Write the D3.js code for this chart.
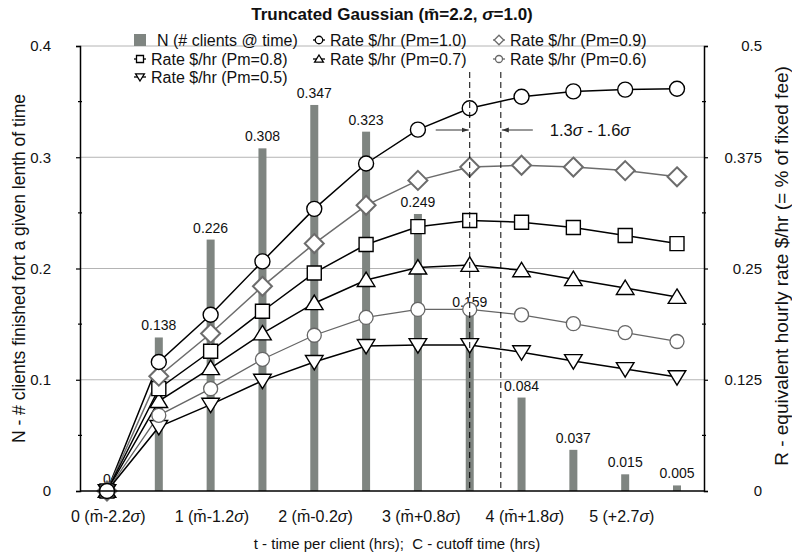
<!DOCTYPE html>
<html>
<head>
<meta charset="utf-8">
<script src="https://cdn.jsdelivr.net/npm/d3@7"></script>
<style>
  body { margin: 0; background: #fff; }
  svg text { font-family: "Liberation Sans", Arial, Helvetica, sans-serif; fill: #111; }
</style>
</head>
<body>
<div id="chart"></div>
<script>
// time per client (hrs) for each data point
var tHours = [0, 0.5, 1, 1.5, 2, 2.5, 3, 3.5, 4, 4.5, 5, 5.5];
// N - # clients finished at that time (bars, left axis)
var nClients = [0, 0.138, 0.226, 0.308, 0.347, 0.323, 0.249, 0.159, 0.084, 0.037, 0.015, 0.005];
// R - equivalent hourly rate (right axis)
var rate10 = [0, 0.145, 0.198, 0.258, 0.317, 0.368, 0.406, 0.430, 0.443, 0.449, 0.451, 0.452];
var rate09 = [0, 0.129, 0.177, 0.230, 0.278, 0.321, 0.349, 0.364, 0.366, 0.364, 0.360, 0.353];
var rate08 = [0, 0.115, 0.157, 0.202, 0.245, 0.277, 0.297, 0.304, 0.302, 0.296, 0.287, 0.278];
var rate07 = [0, 0.101, 0.138, 0.177, 0.211, 0.237, 0.251, 0.254, 0.248, 0.238, 0.228, 0.218];
var rate06 = [0, 0.085, 0.115, 0.148, 0.175, 0.195, 0.204, 0.204, 0.198, 0.188, 0.178, 0.168];
var rate05 = [0, 0.072, 0.097, 0.124, 0.145, 0.163, 0.164, 0.164, 0.156, 0.146, 0.137, 0.128];

var xTicks = [0, 1, 2, 3, 4, 5];
var xTickLabels = [["0 (m\u0304-2.2", ")"], ["1 (m\u0304-1.2", ")"], ["2 (m\u0304-0.2", ")"],
                   ["3 (m\u0304+0.8", ")"], ["4 (m\u0304+1.8", ")"], ["5 (+2.7", ")"]];
var leftTicks = [0, 0.1, 0.2, 0.3, 0.4];
var rightTicks = [0, 0.125, 0.25, 0.375, 0.5];
var cutoffLines = [3.5, 3.8]; // m + 1.3 sigma, m + 1.6 sigma

var W = 792, H = 557;
var margin = { top: 46, right: 88, bottom: 66, left: 80 };
var plotW = W - margin.left - margin.right,
    plotH = H - margin.top - margin.bottom;

var svg = d3.select("#chart").append("svg")
    .attr("width", W).attr("height", H);

var x = d3.scaleLinear().domain([0, 5.5]).range([margin.left + 27, margin.left + 597]);
var yL = d3.scaleLinear().domain([0, 0.4]).range([margin.top + plotH, margin.top]);
var yR = d3.scaleLinear().domain([0, 0.5]).range([margin.top + plotH, margin.top]);

var xL = margin.left, xRt = margin.left + plotW, yBase = margin.top + plotH;

// gridlines
svg.append("g").selectAll("line")
    .data(leftTicks.slice(1))
    .enter().append("line")
    .attr("x1", xL).attr("x2", xRt)
    .attr("y1", d => yL(d)).attr("y2", d => yL(d))
    .attr("stroke", "#b4b4b4").attr("stroke-width", 1);

// bars
var barW = 8;
svg.append("g").selectAll("rect")
    .data(tHours.map((t, i) => ({ t: t, v: nClients[i] })).filter(d => d.v > 0))
    .enter().append("rect")
    .attr("x", d => x(d.t) - barW / 2)
    .attr("y", d => yL(d.v))
    .attr("width", barW)
    .attr("height", d => yBase - yL(d.v))
    .attr("fill", "#7f8581");

// bar labels
svg.append("g").selectAll("text")
    .data(tHours.map((t, i) => ({ t: t, v: nClients[i] })))
    .enter().append("text")
    .attr("x", d => x(d.t))
    .attr("y", d => yL(d.v) - 7)
    .attr("text-anchor", "middle")
    .attr("font-size", "14px")
    .text(d => d.v === 0 ? "0" : d3.format(".3f")(d.v));

// marker shapes
function markerPath(kind, s) {
    var p = d3.path();
    if (kind === "circle") {
        p.moveTo(s, 0); p.arc(0, 0, s, 0, 2 * Math.PI);
    } else if (kind === "square") {
        p.rect(-s, -s, 2 * s, 2 * s);
    } else if (kind === "diamond") {
        p.moveTo(0, -s); p.lineTo(s, 0); p.lineTo(0, s); p.lineTo(-s, 0); p.closePath();
    } else if (kind === "up") {
        p.moveTo(0, -s); p.lineTo(s * 1.1, s * 0.8); p.lineTo(-s * 1.1, s * 0.8); p.closePath();
    } else if (kind === "down") {
        p.moveTo(0, s); p.lineTo(s * 1.1, -s * 0.8); p.lineTo(-s * 1.1, -s * 0.8); p.closePath();
    }
    return p.toString();
}

var seriesList = [
    { name: "Rate $/hr (Pm=1.0)", vals: rate10, shape: "circle", size: 7.5, color: "#000", sw: 1.4, lw: 1.5 },
    { name: "Rate $/hr (Pm=0.9)", vals: rate09, shape: "diamond", size: 9.5, color: "#6c6c6c", sw: 2, lw: 1.5 },
    { name: "Rate $/hr (Pm=0.8)", vals: rate08, shape: "square", size: 7, color: "#000", sw: 1.4, lw: 1.5 },
    { name: "Rate $/hr (Pm=0.7)", vals: rate07, shape: "up", size: 8, color: "#000", sw: 1.4, lw: 1.5 },
    { name: "Rate $/hr (Pm=0.6)", vals: rate06, shape: "circle", size: 7, color: "#666", sw: 1.3, lw: 1.3 },
    { name: "Rate $/hr (Pm=0.5)", vals: rate05, shape: "down", size: 8, color: "#000", sw: 1.4, lw: 1.5 }
];

var line = d3.line().x(d => x(d.t)).y(d => yR(d.v));

seriesList.forEach(function (s) {
    var pts = tHours.map((t, i) => ({ t: t, v: s.vals[i] }));
    svg.append("path")
        .datum(pts)
        .attr("d", line)
        .attr("fill", "none")
        .attr("stroke", s.color)
        .attr("stroke-width", s.lw);
});
// markers drawn after all lines, bottom series first
seriesList.slice().reverse().forEach(function (s) {
    var pts = tHours.map((t, i) => ({ t: t, v: s.vals[i] }));
    svg.append("g").selectAll("path")
        .data(pts)
        .enter().append("path")
        .attr("transform", d => "translate(" + x(d.t) + "," + yR(d.v) + ")")
        .attr("d", markerPath(s.shape, s.size))
        .attr("fill", "#fff")
        .attr("stroke", s.color)
        .attr("stroke-width", s.sw);
});

// axes
var axisL = svg.append("g").attr("transform", "translate(" + xL + ",0)")
    .call(d3.axisLeft(yL).tickValues(leftTicks).tickSize(4).tickPadding(25).tickFormat(d3.format("")));
var axisR = svg.append("g").attr("transform", "translate(" + xRt + ",0)")
    .call(d3.axisRight(yR).tickValues(rightTicks).tickSize(4).tickPadding(54).tickFormat(d3.format("")));
[axisL, axisR].forEach(function (a) {
    a.select(".domain").attr("stroke", "#000").attr("stroke-width", 1.5);
    a.selectAll(".tick line").attr("stroke", "#000").attr("stroke-width", 1.2);
    a.selectAll(".tick text").attr("font-size", "15px")
        .attr("font-family", "Liberation Sans, Arial, sans-serif").attr("fill", "#111");
});
axisR.selectAll(".tick text").attr("text-anchor", "end");
// minor ticks
svg.append("g").selectAll("line")
    .data([0.05, 0.15, 0.25, 0.35])
    .enter().append("line")
    .attr("x1", xL - 2).attr("x2", xL + 2)
    .attr("y1", d => yL(d)).attr("y2", d => yL(d))
    .attr("stroke", "#000").attr("stroke-width", 1.2);
svg.append("g").selectAll("line")
    .data([0.0625, 0.1875, 0.3125, 0.4375])
    .enter().append("line")
    .attr("x1", xRt - 2).attr("x2", xRt + 2)
    .attr("y1", d => yR(d)).attr("y2", d => yR(d))
    .attr("stroke", "#000").attr("stroke-width", 1.2);

// bottom axis line
svg.append("line")
    .attr("x1", xL).attr("x2", xRt).attr("y1", yBase).attr("y2", yBase)
    .attr("stroke", "#000").attr("stroke-width", 1.5);

// x tick labels
var xt = svg.append("g").selectAll("text")
    .data(xTicks)
    .enter().append("text")
    .attr("x", d => x(d) - 36)
    .attr("y", yBase + 31)
    .attr("text-anchor", "start")
    .attr("font-size", "16px");
xt.append("tspan").text((d, i) => xTickLabels[i][0]);
xt.append("tspan").attr("font-style", "italic").text("\u03c3");
xt.append("tspan").text((d, i) => xTickLabels[i][1]);

// axis titles
svg.append("text")
    .attr("x", 397).attr("y", 549)
    .attr("text-anchor", "middle").attr("font-size", "15px")
    .style("white-space", "pre")
    .text("t - time per client (hrs);  C - cutoff time (hrs)");
svg.append("text")
    .attr("transform", "translate(25," + (margin.top + plotH / 2) + ") rotate(-90)")
    .attr("text-anchor", "middle").attr("font-size", "17.5px")
    .text("N - # clients finished fort a given lenth of time");
svg.append("text")
    .attr("transform", "translate(788,266) rotate(-90)")
    .attr("text-anchor", "middle").attr("font-size", "19px")
    .text("R - equivalent hourly rate $/hr (= % of fixed fee)");

// title
var title = svg.append("text")
    .attr("x", 392).attr("y", 20)
    .attr("text-anchor", "middle").attr("font-size", "17px").attr("font-weight", "bold");
title.append("tspan").text("Truncated Gaussian (m\u0304=2.2, ");
title.append("tspan").attr("font-style", "italic").text("\u03c3");
title.append("tspan").text("=1.0)");

// cutoff dashed lines and annotation
svg.append("g").selectAll("line")
    .data(cutoffLines)
    .enter().append("line")
    .attr("x1", d => x(d)).attr("x2", d => x(d))
    .attr("y1", 72).attr("y2", yBase)
    .attr("stroke", "#000").attr("stroke-width", 1)
    .attr("stroke-dasharray", "6,4");

svg.append("defs").append("marker")
    .attr("id", "arrow").attr("viewBox", "0 0 10 10")
    .attr("refX", 10).attr("refY", 5)
    .attr("markerWidth", 7).attr("markerHeight", 7)
    .attr("orient", "auto-start-reverse")
    .append("path").attr("d", "M0,1.5 L10,5 L0,8.5 Z").attr("fill", "#333");
var arrowY = 130;
svg.append("line")
    .attr("x1", x(cutoffLines[0]) - 34).attr("x2", x(cutoffLines[0]) - 1)
    .attr("y1", arrowY).attr("y2", arrowY)
    .attr("stroke", "#333").attr("stroke-width", 1)
    .attr("marker-end", "url(#arrow)");
svg.append("line")
    .attr("x1", x(cutoffLines[1]) + 32).attr("x2", x(cutoffLines[1]) + 1)
    .attr("y1", arrowY).attr("y2", arrowY)
    .attr("stroke", "#333").attr("stroke-width", 1)
    .attr("marker-end", "url(#arrow)");
var ann = svg.append("text")
    .attr("x", x(cutoffLines[1]) + 49).attr("y", arrowY + 6)
    .attr("font-size", "16.5px");
ann.append("tspan").text("1.3");
ann.append("tspan").attr("font-style", "italic").text("\u03c3");
ann.append("tspan").text(" - 1.6");
ann.append("tspan").attr("font-style", "italic").text("\u03c3");

// legend
var legCols = [140, 319, 499], legRows = [40, 59, 77];
var legItems = [{ name: "N (# clients @ time)", bar: true }].concat(seriesList);
var leg = svg.append("g").selectAll("g")
    .data(legItems)
    .enter().append("g")
    .attr("transform", (d, i) => "translate(" + legCols[i % 3] + "," + legRows[Math.floor(i / 3)] + ")");
leg.each(function (d) {
    var g = d3.select(this);
    if (d.bar) {
        g.append("rect").attr("x", -6).attr("y", -6).attr("width", 12).attr("height", 12)
            .attr("fill", "#7f8581");
        g.append("text").attr("x", 17).attr("y", 5.5).attr("font-size", "16px").text(d.name);
    } else {
        g.append("line").attr("x1", -6).attr("x2", 6).attr("y1", 0).attr("y2", 0)
            .attr("stroke", d.color).attr("stroke-width", 1.3);
        g.append("path").attr("d", markerPath(d.shape, d.size * 0.5))
            .attr("fill", "#fff").attr("stroke", d.color).attr("stroke-width", 1.3);
        g.append("text").attr("x", 11).attr("y", 5.5).attr("font-size", "16px").text(d.name);
    }
});
</script>
</body>
</html>
